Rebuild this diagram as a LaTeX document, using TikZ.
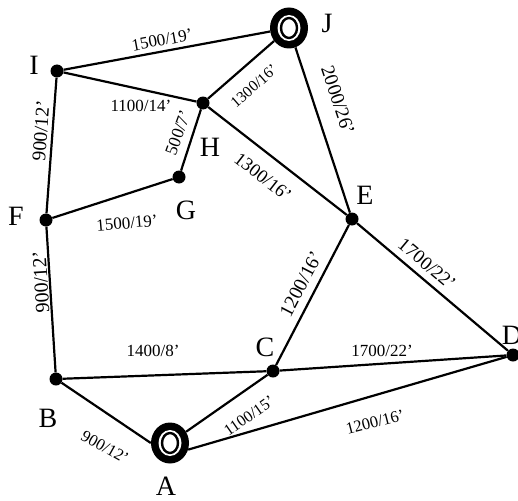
\documentclass[tikz,border=0pt]{standalone}
\usepackage{fontspec}
\setmainfont{Liberation Serif}
\usetikzlibrary{positioning, shapes.geometric}

\begin{document}
\begin{tikzpicture}[x=1pt, y=-1pt, line join=round,
    stop/.style={circle, fill=black, minimum size=13pt, inner sep=0pt},
    hub/.style={ellipse, fill=black, minimum width=38pt, minimum height=41pt, inner sep=0pt,
      path picture={
        \fill[white] (path picture bounding box.center) ellipse (11.5pt and 13pt);
        \draw[line width=2.4pt] (path picture bounding box.center) ellipse (8pt and 10pt);}},
    road/.style={line width=2.2pt},
    tag/.style={font=\fontsize{28}{30}\selectfont, inner sep=0pt},
    dist/.style={font=\fontsize{#1}{#1}\selectfont, inner sep=0pt},
    dist/.default=17]
  \path[use as bounding box] (0,0) rectangle (518,500);

  \node[hub] (J) at (289,28) {};
  \node[stop] (I) at (57,71) {};
  \node[stop] (H) at (203,103) {};
  \node[stop] (G) at (179,177) {};
  \node[stop] (F) at (46,220) {};
  \node[stop] (E) at (352,219) {};
  \node[stop] (D) at (513,355) {};
  \node[stop] (C) at (273,371) {};
  \node[stop] (B) at (56,379) {};
  \node[hub] (A) at (170,443) {};

  \draw[road] (I) -- (J);  \draw[road] (I) -- (H);  \draw[road] (H) -- (J);
  \draw[road] (H) -- (G);  \draw[road] (H) -- (E);  \draw[road] (J) -- (E);
  \draw[road] (I) -- (F);  \draw[road] (F) -- (G);  \draw[road] (F) -- (B);
  \draw[road] (B) -- (C);  \draw[road] (C) -- (D);  \draw[road] (E) -- (D);
  \draw[road] (C) -- (E);  \draw[road] (A) -- (C);  \draw[road] (A.-20) -- (D);
  \draw[road] (B) -- (A.west);

  \node[tag] (tI) at (34,65) {I};
  \node[tag] (tJ) at (327,23) {J};
  \node[tag] (tH) at (210,147) {H};
  \node[tag] (tG) at (186,210) {G};
  \node[tag] (tF) at (16,216) {F};
  \node[tag] (tE) at (365,195) {E};
  \node[tag] (tD) at (512,335) {D};
  \node[tag] (tC) at (265,347) {C};
  \node[tag] (tB) at (48,418) {B};
  \node[tag] (tA) at (166,486) {A};

  \node[dist, rotate=10.5] (lIJ) at (162,40) {1500/19’};
  \node[dist] (lIH) at (141,106) {1100/14’};
  \node[dist=15.5, rotate=41] (lHJ) at (254,86) {1300/16’};
  \node[dist=17.5, rotate=70] (lGH) at (178,133) {500/7’};
  \node[dist=18.5, rotate=-38] (lHE) at (263,177) {1300/16’};
  \node[dist=19.5, rotate=-71.7] (lJE) at (338,100) {2000/26’};
  \node[dist=19.5, rotate=85.8] (lIF) at (41,131) {900/12’};
  \node[dist, rotate=5] (lFG) at (127,223) {1500/19’};
  \node[dist=20, rotate=93.6] (lFB) at (41,282) {900/12’};
  \node[dist] (lBC) at (153,351) {1400/8’};
  \node[dist] (lCD) at (382,351) {1700/22’};
  \node[dist=19, rotate=-40] (lED) at (427,264) {1700/22’};
  \node[dist=19.5, rotate=62.5] (lCE) at (301,284) {1200/16’};
  \node[dist=16, rotate=35] (lAC) at (249,416) {1100/15’};
  \node[dist=16.5, rotate=14.4] (lAD) at (375,422) {1200/16’};
  \node[dist=16.5, rotate=-29.3] (lBA) at (105,447) {900/12’};
\end{tikzpicture}
\end{document}
